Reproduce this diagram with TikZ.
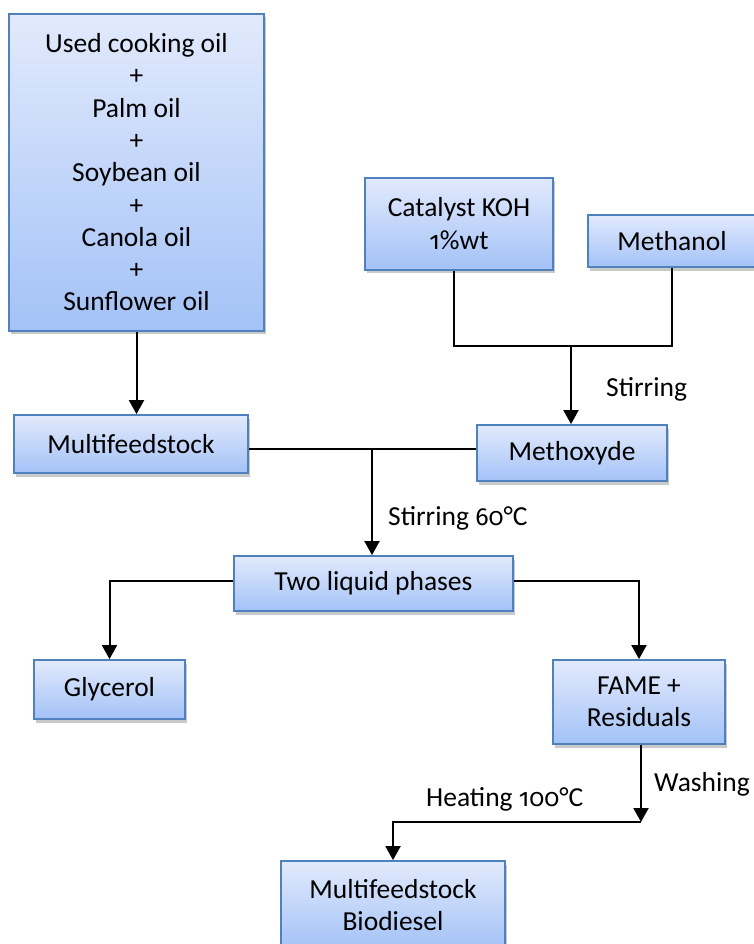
\documentclass[tikz,border=0pt]{standalone}
\usepackage{fontspec}
\setmainfont{Carlito}
\newfontfamily\osf{Fira Sans}[Numbers=OldStyle,Scale=0.9]
\usetikzlibrary{arrows.meta,shadows}
\definecolor{boxtop}{RGB}{226,234,252}
\definecolor{boxbot}{RGB}{163,194,247}
\definecolor{boxline}{RGB}{79,129,189}
\begin{document}
\begin{tikzpicture}[x=1pt,y=-1pt,
  proc/.style={draw=boxline, line width=1.8pt, top color=boxtop, bottom color=boxbot,
    inner sep=0pt, align=center, font=\fontsize{27.5}{32.3}\selectfont,
    drop shadow={shadow xshift=1.5pt, shadow yshift=-3.5pt, opacity=0.35, fill=black!60}},
  conn/.style={line width=2pt, black},
  arr/.style={conn, -{Triangle[length=14pt,width=15pt]}},
  lbl/.style={anchor=west, inner sep=0pt, font=\fontsize{27.5}{32}\selectfont}]
\useasboundingbox (0,0) rectangle (753,944);
\fill[white] (0,0) rectangle (753,944);

\node[proc, minimum width=255pt, minimum height=317pt] (oils) at (136.5,172.3)
  {Used cooking oil\\+\\Palm oil\\+\\Soybean oil\\+\\Canola oil\\+\\Sunflower oil};
\node[proc, minimum width=188pt, minimum height=92pt] (cat) at (459,223.7) {Catalyst KOH\\{\osf 1}\%wt};
\node[proc, minimum width=168pt, minimum height=52pt] (meth) at (672,241) {Methanol};
\node[proc, minimum width=234pt, minimum height=58pt] (mf) at (131,444) {Multifeedstock};
\node[proc, minimum width=190pt, minimum height=56pt] (mo) at (572,453) {Methoxyde};
\node[proc, minimum width=279pt, minimum height=55pt] (tl) at (373.5,583.5) {Two liquid phases};
\node[proc, minimum width=151pt, minimum height=59pt] (gly) at (109.5,689.5) {Glycerol};
\node[proc, minimum width=172pt, minimum height=84pt] (fame) at (639,702) {FAME +\\Residuals};
\node[proc, minimum width=224pt, minimum height=88pt] (bio) at (393,905) {Multifeedstock\\Biodiesel};

\coordinate (j2) at (571,346);
\coordinate (j1) at (372,449);
\coordinate (j3) at (641,822);

\draw[arr] (oils.south) -- (oils.south |- mf.north);
\draw[conn] ([xshift=-5pt]cat.south) |- (meth.south |- j2) -- (meth.south);
\draw[arr] (j2) -- (j2 |- mo.north);
\draw[conn] (mf.east |- j1) -- (mo.west |- j1);
\draw[arr] (j1) -- (j1 |- tl.north);
\draw[arr] (tl.west |- 0,581) -| (gly.north);
\draw[arr] (tl.east |- 0,581) -| (fame.north);
\draw[arr] (j3 |- fame.south) -- (j3);
\draw[arr] (j3) -| (bio.north);

\node[lbl] (l1) at (606,389) {Stirring};
\node[lbl] (l2) at (388,518) {Stirring {\osf 60}°C};
\node[lbl] (l3) at (426,799) {Heating {\osf 100}°C};
\node[lbl] (l4) at (654,784) {Washing};
\end{tikzpicture}
\end{document}
